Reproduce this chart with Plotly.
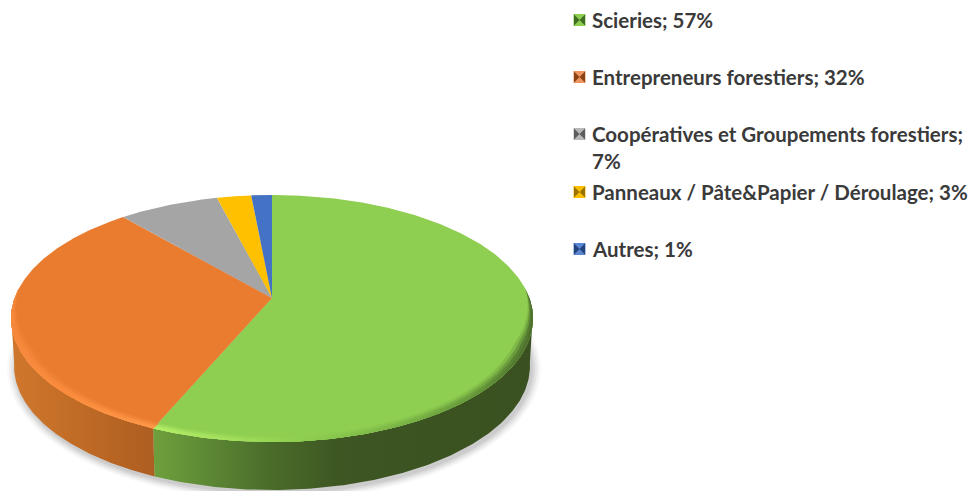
import numpy as np
import plotly.graph_objects as go

categories = ["Scieries", "Entrepreneurs forestiers", "Coopératives et Groupements forestiers",
              "Panneaux / Pâte&Papier / Déroulage", "Autres"]
shares = [56.4, 32.3, 7.3, 2.5, 1.5]
share_labels = ["57%", "32%", "7%", "3%", "1%"]
colors = ["#8ece50", "#ea7c30", "#a5a5a5", "#ffc000", "#4472c4"]
legend_dark = ["#3f6e22", "#8a4315", "#5c5c5c", "#9a7200", "#24437d"]
legend_light = ["#8ece50", "#ef9560", "#b8b8b8", "#ffc000", "#5b86d2"]

# geometry of the drawn disc in pixel space
CX, APEX_Y, TOP_Y, BOT_Y, RX = 272.0, 298.0, 195.0, 442.0, 261.0
EY, RY = (TOP_Y + BOT_Y) / 2, (BOT_Y - TOP_Y) / 2
# perspective map disc -> screen: apex stays the centre of the slices
K = (TOP_Y + BOT_Y - 2 * APEX_Y) / (BOT_Y - TOP_Y)
B = TOP_Y * (1 + K) - APEX_Y
C = RX * np.sqrt(1 - K * K)
SX, SY, SRX, SRY = CX, 366.0, 258.0, 124.0  # base ellipse


def disc(theta):
    u, v = np.sin(theta), np.cos(theta)
    w = 1 + K * v
    return CX + C * u / w, (APEX_Y + B * v) / w


def to_base(x, y):
    return SX + (x - CX) * SRX / RX, SY + (y - EY) * SRY / RY


fracs = np.cumsum([0] + shares) / sum(shares) * 2 * np.pi
fig = go.Figure()


def poly(x, y, color=None, grad=None):
    kw = dict(fillcolor=color) if color else dict(fillgradient=grad)
    fig.add_trace(go.Scatter(x=list(x), y=list(y), mode="lines", fill="toself",
                             line=dict(width=0), hoverinfo="skip", showlegend=False, **kw))


def hgrad(stops, x0, x1):
    scale = [[float(np.clip((a - x0) / (x1 - x0), 0, 1)), c] for a, c in stops]
    scale = sorted(scale, key=lambda s: s[0])
    if scale[0][0] > 0:
        scale.insert(0, [0, scale[0][1]])
    if scale[-1][0] < 1:
        scale.append([1, scale[-1][1]])
    return dict(type="horizontal", colorscale=scale)


# soft shadow under the base
for grow, op in zip([9, 7, 5, 3, 1], [0.025, 0.035, 0.045, 0.05, 0.06]):
    t = np.linspace(0, 2 * np.pi, 200)
    poly(SX + 2 + (SRX + grow) * np.cos(t), SY + 3 + (SRY + grow * 0.8) * np.sin(t), color=f"rgba(0,0,0,{op})")

side_stops = [
    [[154, "#6f9f3c"], [200, "#5f8c36"], [270, "#4a6c2a"], [340, "#3d5622"], [533, "#3a5020"]],
    [[10, "#cf772c"], [80, "#c06b26"], [154, "#ae5e21"]],
]
# side walls of the two front slices
for i in range(2):
    t = np.linspace(fracs[i], fracs[i + 1], 300)
    x, y = disc(t)
    m = y >= EY - 4
    x, y = x[m], y[m]
    bx, by = to_base(x, y)
    px = np.r_[x, bx[::-1]]
    py = np.r_[y, by[::-1]]
    poly(px, py, grad=hgrad(side_stops[i], px.min(), px.max()))

# top faces
for i in range(len(shares)):
    t = np.linspace(fracs[i], fracs[i + 1], 300)
    x, y = disc(t)
    poly(np.r_[CX, x], np.r_[APEX_Y, y], color=colors[i])

# bevel on the rim of the front slices, as nested strips fading into the face
bevel = [
    [[154, "#b4ee68"], [230, "#a3e05c"], [300, "#8ece50"], [400, "#7ab446"], [470, "#66993a"], [533, "#4c6f2c"]],
    [[10, "#f5893c"], [60, "#fb8c3c"], [154, "#ff9848"]],
]
widths = [0.012, 0.024, 0.036, 0.05]
mixes = [1.0, 0.9, 0.6, 0.25]


def mix(c1, c2, a):
    a1 = [int(c1[j:j + 2], 16) for j in (1, 3, 5)]
    a2 = [int(c2[j:j + 2], 16) for j in (1, 3, 5)]
    return "#%02x%02x%02x" % tuple(round(p * a + q * (1 - a)) for p, q in zip(a1, a2))


for i in range(2):
    t = np.linspace(fracs[i], fracs[i + 1], 300)
    x, y = disc(t)
    f = np.clip((y - (EY - 30)) / 60, 0, 1)
    m = f > 0
    x, y, f = x[m], y[m], f[m]
    for w, a in reversed(list(zip(widths, mixes))):
        ix = CX + (x - CX) * (1 - w * f)
        iy = EY + (y - EY) * (1 - w * f)
        px = np.r_[x, ix[::-1]]
        py = np.r_[y, iy[::-1]]
        stops = [[s[0], mix(s[1], colors[i], a)] for s in bevel[i]]
        poly(px, py, grad=hgrad(stops, px.min(), px.max()))

# legend
legend_y = [20, 77, 134, 192, 249]
for i, (name, lab) in enumerate(zip(categories, share_labels)):
    ym = legend_y[i]
    fig.add_trace(go.Scatter(x=[579.5], y=[ym], mode="markers", hoverinfo="skip", showlegend=False,
                             marker=dict(symbol="square", size=12, color=legend_light[i], line=dict(width=0))))
    fig.add_trace(go.Scatter(x=[579.5], y=[ym], mode="markers", hoverinfo="skip", showlegend=False,
                             marker=dict(symbol="bowtie", size=11, color=legend_dark[i], line=dict(width=0))))
    if i == 2:
        text = f"{name};<br>{lab}"
    else:
        text = f"{name}; {lab}"
    fig.add_annotation(x=591, y=ym - 13.5, xref="x", yref="y", xanchor="left", yanchor="top", text=text,
                       showarrow=False, align="left", borderpad=0,
                       font=dict(family="Lato", size=20.5, color="#3a3a3a", weight="bold"))

fig.update_layout(
    width=971, height=491, margin=dict(l=0, r=0, t=0, b=0),
    paper_bgcolor="white", plot_bgcolor="white", showlegend=False,
    xaxis=dict(range=[0, 971], visible=False, fixedrange=True),
    yaxis=dict(range=[491, 0], visible=False, fixedrange=True),
)
fig.write_html("out.html", config={"displayModeBar": False},
               post_script="document.body.style.margin='0';")
